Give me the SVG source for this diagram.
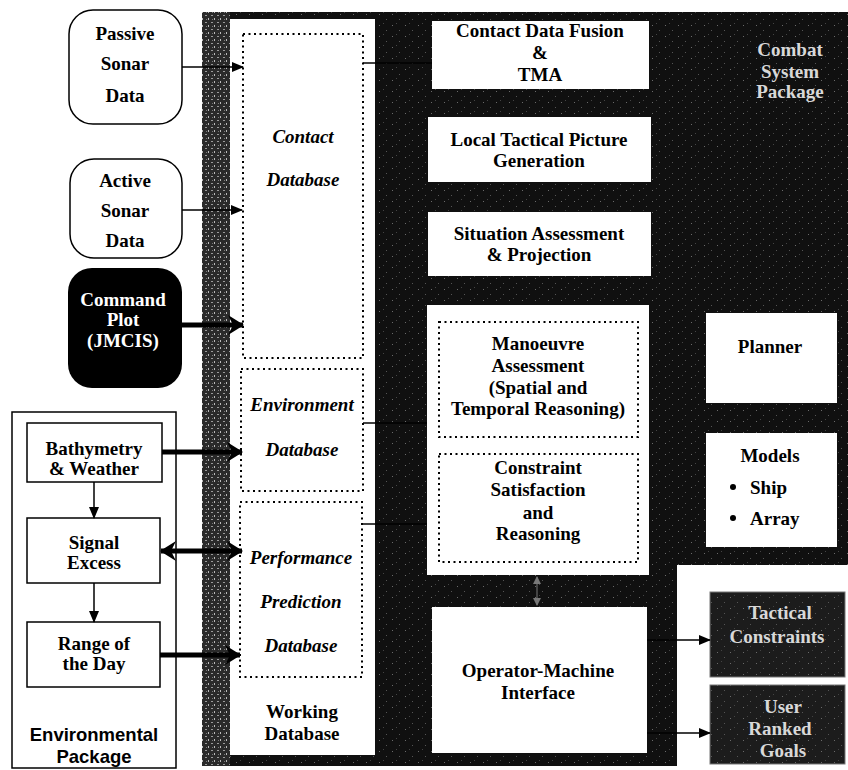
<svg xmlns="http://www.w3.org/2000/svg" width="848" height="770" viewBox="0 0 848 770">
<defs>
<style>
.t{font-family:"Liberation Serif","Times New Roman",serif;font-weight:bold;font-size:19px;text-anchor:middle;fill:#000}
.st{text-anchor:start}
.it{font-style:italic}
.w{fill:#fff}
.lt{fill:#d8d8d8}
.sans{font-family:"Liberation Sans",Arial,sans-serif;font-weight:bold;font-size:18.5px;text-anchor:middle;fill:#000}
.box{fill:#fff;stroke:#000;stroke-width:1.5}
.wb{fill:#fff}
.dot{fill:none;stroke:#000;stroke-width:2;stroke-dasharray:2 3.5}
.thin{stroke:#000;stroke-width:1.5;fill:none}
.thick{stroke:#000;stroke-width:5;fill:none}
.dk{fill:#1c1c1c;stroke:#777;stroke-width:1}
</style>
<marker id="ah" markerUnits="userSpaceOnUse" markerWidth="12" markerHeight="10" refX="11" refY="5" orient="auto"><path d="M0,0 L12,5 L0,10 Z" fill="#000"/></marker>
<marker id="ahb" markerUnits="userSpaceOnUse" markerWidth="16" markerHeight="20" refX="15" refY="10" orient="auto-start-reverse"><path d="M0,0 L16,10 L0,20 L5,10 Z" fill="#000"/></marker>
<marker id="ahg" markerUnits="userSpaceOnUse" markerWidth="8" markerHeight="8" refX="7" refY="4" orient="auto-start-reverse"><path d="M0,0 L8,4 L0,8 Z" fill="#777"/></marker>
<pattern id="spk" width="13" height="11" patternUnits="userSpaceOnUse">
<rect x="2" y="3" width="1" height="1" fill="#6a6a6a"/>
<rect x="9" y="8" width="1" height="1" fill="#555"/>
<rect x="6" y="1" width="1" height="1" fill="#444"/>
</pattern>
<pattern id="spk2" width="6" height="7" patternUnits="userSpaceOnUse">
<rect x="0" y="0" width="6" height="7" fill="#2a2a2a"/>
<rect x="1" y="1" width="2" height="1" fill="#9a9a9a"/>
<rect x="4" y="4" width="1" height="2" fill="#bbb"/>
<rect x="2" y="5" width="1" height="1" fill="#777"/>
</pattern>
</defs>
<rect width="848" height="770" fill="#fff"/>

<g id="combat-system-package">
<path d="M202,12 H848 V565 H677 V766 H202 Z" fill="#101010"/>
<path d="M202,12 H848 V565 H677 V766 H202 Z" fill="url(#spk)"/>
<rect x="202" y="12" width="28" height="754" fill="url(#spk2)"/>
<text class="t lt" x="790" y="56">Combat</text>
<text class="t lt" x="790" y="78">System</text>
<text class="t lt" x="790" y="98">Package</text>
</g>

<g id="working-database">
<rect class="wb" x="230" y="19" width="145" height="736"/>
<text class="t" x="302" y="718">Working</text>
<text class="t" x="302" y="740">Database</text>
</g>
<g id="contact-database">
<rect class="dot" x="243" y="34" width="120" height="324"/>
<text class="t it" x="303" y="143">Contact</text>
<text class="t it" x="303" y="186">Database</text>
</g>
<g id="environment-database">
<rect class="dot" x="241" y="369" width="122" height="122"/>
<text class="t it" x="302" y="411">Environment</text>
<text class="t it" x="302" y="456">Database</text>
</g>
<g id="performance-database">
<rect class="dot" x="240" y="502" width="122" height="175"/>
<text class="t it" x="301" y="564">Performance</text>
<text class="t it" x="301" y="608">Prediction</text>
<text class="t it" x="301" y="652">Database</text>
</g>

<g id="passive-sonar">
<rect class="box" x="69" y="10" width="113" height="114" rx="24"/>
<text class="t" x="125" y="40">Passive</text>
<text class="t" x="125" y="70">Sonar</text>
<text class="t" x="125" y="102">Data</text>
</g>
<g id="active-sonar">
<rect class="box" x="70" y="159" width="112" height="99" rx="24"/>
<text class="t" x="125" y="187">Active</text>
<text class="t" x="125" y="217">Sonar</text>
<text class="t" x="125" y="247">Data</text>
</g>
<g id="command-plot">
<rect x="68" y="268" width="114" height="120" rx="24" fill="#000"/>
<text class="t w" x="123" y="306" font-size="18">Command</text>
<text class="t w" x="123" y="326" font-size="18">Plot</text>
<text class="t w" x="123" y="347" font-size="18">(JMCIS)</text>
</g>

<g id="environmental-package">
<rect class="box" x="12" y="412" width="164" height="356" fill="none"/>
<text class="sans" x="94" y="741">Environmental</text>
<text class="sans" x="94" y="763">Package</text>
</g>
<g id="bathymetry">
<rect class="box" x="27" y="423" width="135" height="59"/>
<text class="t" x="94" y="455">Bathymetry</text>
<text class="t" x="94" y="475">&amp; Weather</text>
</g>
<g id="signal-excess">
<rect class="box" x="27" y="518" width="133" height="65"/>
<text class="t" x="94" y="549">Signal</text>
<text class="t" x="94" y="569">Excess</text>
</g>
<g id="range-of-day">
<rect class="box" x="27" y="622" width="133" height="65"/>
<text class="t" x="94" y="650">Range of</text>
<text class="t" x="94" y="670">the Day</text>
</g>

<g id="contact-data-fusion">
<rect class="wb" x="432" y="21" width="217" height="68"/>
<text class="t" x="540" y="37">Contact Data Fusion</text>
<text class="t" x="540" y="59" font-size="14">&amp;</text>
<text class="t" x="540" y="81">TMA</text>
</g>
<g id="local-tactical-picture">
<rect class="wb" x="428" y="117" width="223" height="65"/>
<text class="t" x="539" y="146">Local Tactical Picture</text>
<text class="t" x="539" y="167">Generation</text>
</g>
<g id="situation-assessment">
<rect class="wb" x="428" y="212" width="223" height="64"/>
<text class="t" x="539" y="240">Situation Assessment</text>
<text class="t" x="539" y="261">&amp; Projection</text>
</g>
<g id="reasoning-box">
<rect class="wb" x="427" y="305" width="222" height="270"/>
</g>
<g id="manoeuvre-assessment">
<rect class="dot" x="439" y="322" width="199" height="115"/>
<text class="t" x="538" y="350">Manoeuvre</text>
<text class="t" x="538" y="372">Assessment</text>
<text class="t" x="538" y="394">(Spatial and</text>
<text class="t" x="538" y="415">Temporal Reasoning)</text>
</g>
<g id="constraint-satisfaction">
<rect class="dot" x="439" y="454" width="199" height="108"/>
<text class="t" x="538" y="474">Constraint</text>
<text class="t" x="538" y="496">Satisfaction</text>
<text class="t" x="538" y="519">and</text>
<text class="t" x="538" y="540">Reasoning</text>
</g>
<g id="planner">
<rect class="wb" x="706" y="313" width="131" height="90"/>
<text class="t" x="770" y="353">Planner</text>
</g>
<g id="models">
<rect class="wb" x="706" y="433" width="131" height="114"/>
<text class="t" x="770" y="462">Models</text>
<circle cx="733" cy="487" r="3" fill="#000"/>
<text class="t st" x="750" y="494">Ship</text>
<circle cx="733" cy="518" r="3" fill="#000"/>
<text class="t st" x="750" y="525">Array</text>
</g>
<g id="operator-machine-interface">
<rect class="wb" x="432" y="607" width="215" height="146"/>
<text class="t" x="538" y="677">Operator-Machine</text>
<text class="t" x="538" y="699">Interface</text>
</g>
<g id="tactical-constraints">
<rect class="dk" x="710" y="592" width="135" height="85"/>
<rect x="710" y="592" width="135" height="85" fill="url(#spk)"/>
<text class="t lt" x="780" y="619">Tactical</text>
<text class="t lt" x="777" y="643">Constraints</text>
</g>
<g id="user-ranked-goals">
<rect class="dk" x="710" y="685" width="135" height="79"/>
<rect x="710" y="685" width="135" height="79" fill="url(#spk)"/>
<text class="t lt" x="783" y="713">User</text>
<text class="t lt" x="780" y="735">Ranked</text>
<text class="t lt" x="783" y="757">Goals</text>
</g>

<g id="connectors">
<line class="thin" x1="182" y1="67" x2="243" y2="67" marker-end="url(#ah)"/>
<line class="thin" x1="182" y1="210" x2="242" y2="210" marker-end="url(#ah)"/>
<line class="thick" x1="182" y1="325" x2="243" y2="325" marker-end="url(#ahb)"/>
<line class="thick" x1="162" y1="452" x2="242" y2="452" marker-end="url(#ahb)"/>
<line class="thick" x1="161" y1="551" x2="242" y2="551" marker-start="url(#ahb)" marker-end="url(#ahb)"/>
<line class="thick" x1="160" y1="655" x2="240" y2="655" marker-end="url(#ahb)"/>
<line class="thin" x1="94" y1="482" x2="94" y2="518" marker-end="url(#ah)"/>
<line class="thin" x1="94" y1="583" x2="94" y2="622" marker-end="url(#ah)"/>
<line class="thin" x1="363" y1="63" x2="432" y2="63"/>
<line class="thin" x1="363" y1="423" x2="427" y2="423"/>
<line class="thin" x1="362" y1="524" x2="427" y2="524"/>
<line x1="537" y1="577" x2="537" y2="605" stroke="#777" stroke-width="1" marker-start="url(#ahg)" marker-end="url(#ahg)"/>
<line x1="647" y1="640" x2="710" y2="640" stroke="#000" stroke-width="1.5" marker-end="url(#ah)"/>
<line x1="647" y1="733" x2="710" y2="733" stroke="#000" stroke-width="1.5" marker-end="url(#ah)"/>
</g>
</svg>
